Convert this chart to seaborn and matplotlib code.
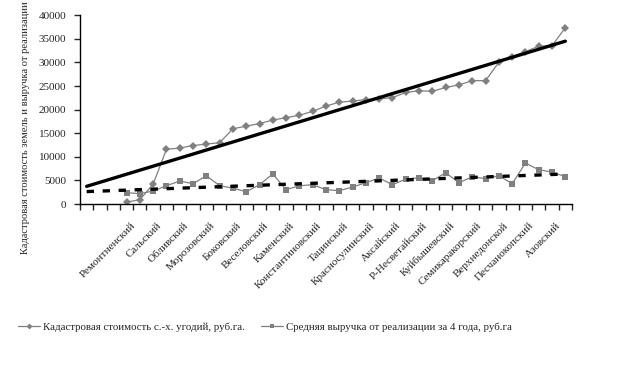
import numpy as np
import pandas as pd
import matplotlib
matplotlib.use("Agg")
import matplotlib.pyplot as plt
import seaborn as sns
from matplotlib.ticker import FixedLocator, NullFormatter
from matplotlib.lines import Line2D

# ---- data ----
n_categories = 37
first_category = 3
tick_labels = ["Ремонтненский", "Сальский", "Обливский", "Морозовский", "Боковский",
               "Веселовский", "Каменский", "Константиновский", "Тацинский",
               "Красносулинский", "Аксайский", "Р-Несветайский", "Куйбышевский",
               "Семикаракорский", "Верхнедонской", "Песчанокопский", "Азовский"]
cadastral = [400, 900, 4200, 11600, 11850, 12400, 12700, 13000, 15950, 16500,
             17050, 17800, 18300, 18800, 19650, 20750, 21600, 21800, 22150, 22300,
             22550, 23650, 24000, 23900, 24700, 25250, 26150, 26150, 30050, 31250,
             32300, 33450, 33550, 37400]
sales = [2400, 2200, 2750, 3870, 4870, 4300, 5990, 3870, 3390, 2580,
         4090, 6380, 3030, 3870, 4090, 3030, 2820, 3600, 4510, 5500,
         4090, 5290, 5570, 4930, 6630, 4510, 5780, 5360, 5990, 4300,
         8680, 7260, 6770, 5780]
name_cad = "Кадастровая стоимость с.-х. угодий, руб.га."
name_sales = "Средняя выручка от реализации за 4 года, руб.га"
ylabel = "Кадастровая стоимость земель и выручка от реализации"

sns.set_style("white")
plt.rcParams['font.family'] = ['Liberation Serif', 'DejaVu Serif']

x = np.arange(first_category, first_category + len(cadastral))
df = pd.DataFrame({"x": np.concatenate([x, x]),
                   "y": cadastral + sales,
                   "series": [name_cad] * len(x) + [name_sales] * len(x)})

fig = plt.figure(figsize=(6.21, 3.65), dpi=100)
ax = fig.add_axes([80 / 621, 1 - 204 / 365, 492 / 621, 188.7 / 365])

grey = "#808080"
sns.lineplot(data=df, x="x", y="y", hue="series", style="series",
             palette=[grey, grey], markers=["D", "s"], dashes=False,
             markersize=4, linewidth=0.9, markeredgewidth=0, ax=ax, legend=False)

# linear trend lines
xt = np.arange(0, n_categories)
for vals, ls in [(cadastral, "-"), (sales, (0, (2.2, 2.6)))]:
    k, b = np.polyfit(x, vals, 1)
    sns.lineplot(x=xt, y=k * xt + b, color="black", linewidth=2.4,
                 linestyle=ls, ax=ax, legend=False)

ax.set_xlim(-0.5, n_categories - 0.5)
ax.set_ylim(0, 40000)
ax.set_yticks(np.arange(0, 40001, 5000))
ax.tick_params(axis="y", labelsize=8, length=4, width=1, direction="out",
               left=True, pad=6)
# x ticks: boundaries as tick marks, labels every other category
ax.xaxis.set_minor_locator(FixedLocator(np.arange(-0.5, n_categories, 1)))
ax.xaxis.set_minor_formatter(NullFormatter())
ax.set_xticks(np.arange(first_category, first_category + 2 * len(tick_labels), 2))
ax.set_xticklabels(tick_labels, rotation=45, ha="right", rotation_mode="anchor",
                   fontsize=8)
ax.tick_params(axis="x", which="major", length=0, pad=12)
ax.tick_params(axis="x", which="minor", length=4, width=1, direction="out",
               bottom=True)
for lab in ax.get_xticklabels():
    lab.set_transform(lab.get_transform() +
                      matplotlib.transforms.ScaledTranslation(4 / 100, 0, fig.dpi_scale_trans))

for s in ["top", "right"]:
    ax.spines[s].set_visible(False)
for s in ["left", "bottom"]:
    ax.spines[s].set_color("black")
    ax.spines[s].set_linewidth(1)
ax.set_xlabel("")
ax.set_ylabel(ylabel, fontsize=7.6)
ax.yaxis.set_label_coords(-50 / 492, (204 - 128) / 188.7)

handles = [Line2D([], [], color=grey, lw=0.9, marker="D", markersize=3, markeredgewidth=0),
           Line2D([], [], color=grey, lw=0.9, marker="s", markersize=3, markeredgewidth=0)]
fig.legend(handles, [name_cad, name_sales], loc="center left",
           bbox_to_anchor=(14 / 621, 1 - 327 / 365), ncol=2, frameon=False,
           fontsize=7.8, handlelength=2.0, handletextpad=0.3, columnspacing=1.5,
           borderaxespad=0)

fig.savefig("out.png", dpi=100)
